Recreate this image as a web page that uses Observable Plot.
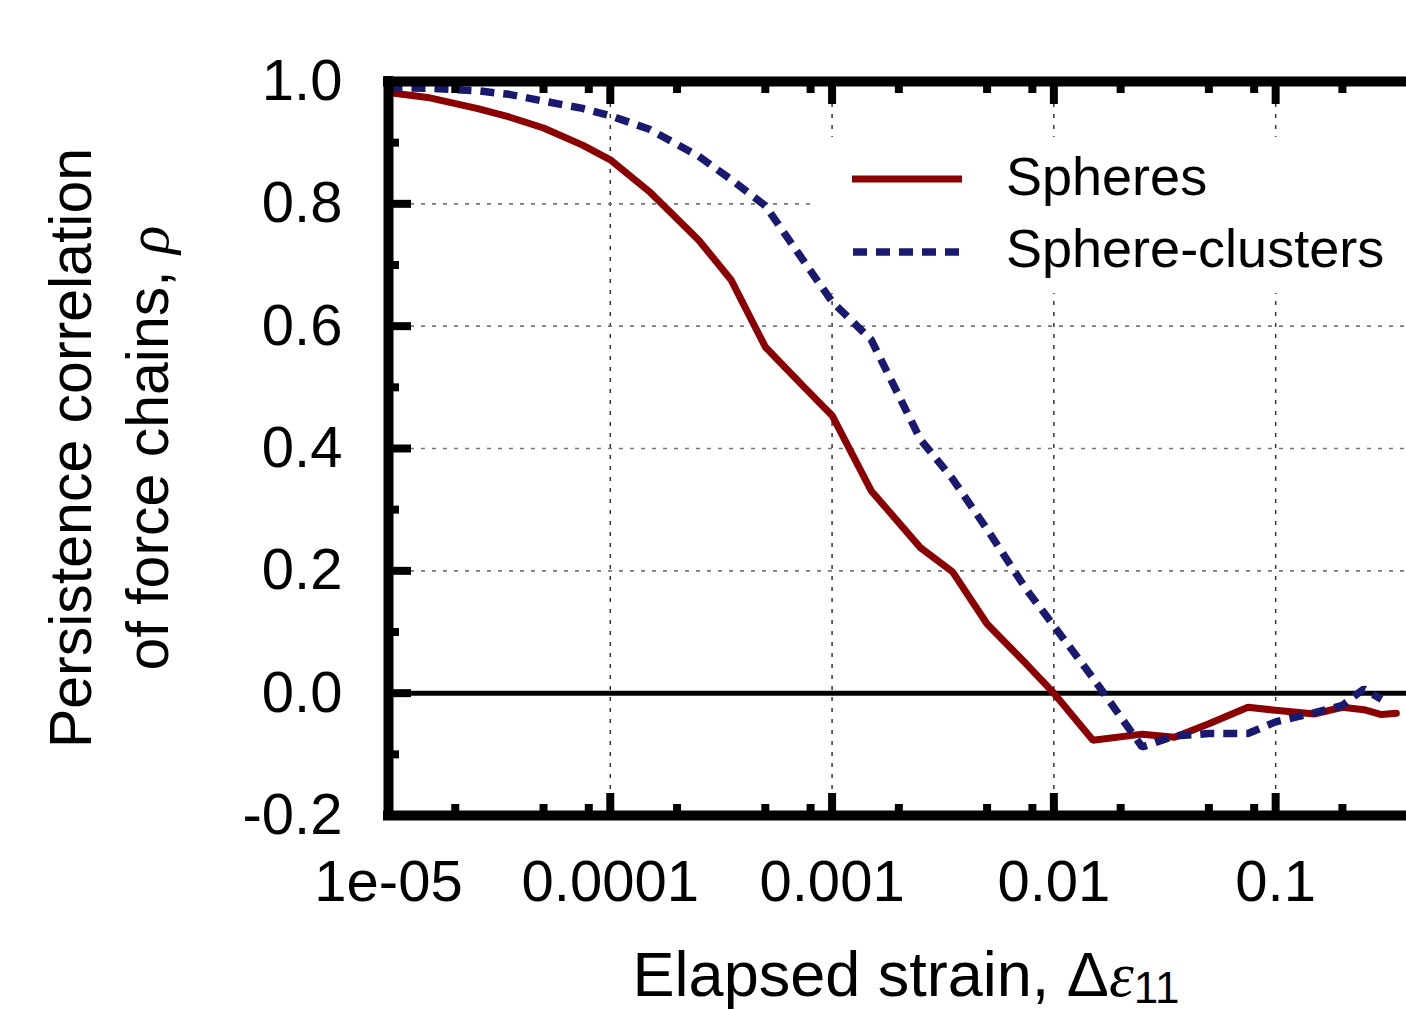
<!DOCTYPE html>
<html>
<head>
<meta charset="utf-8">
<script src="https://cdn.jsdelivr.net/npm/d3@7"></script>
<script src="https://cdn.jsdelivr.net/npm/@observablehq/plot@0.6"></script>
<style>
html, body { margin: 0; padding: 0; background: #fff; overflow: hidden; }
</style>
</head>
<body>
<div id="chart"></div>
<script>
// ---- data ----
const strain = [1e-5, 1.5e-5, 2.5e-5, 3.5e-5, 5e-5, 7.5e-5, 1e-4, 1.5e-4, 2.5e-4, 3.5e-4, 5e-4, 7.5e-4,
  1e-3, 1.5e-3, 2.5e-3, 3.5e-3, 5e-3, 7.5e-3, 1e-2, 1.5e-2, 2.5e-2, 3.5e-2, 5e-2, 7.5e-2,
  0.1, 0.15, 0.2, 0.25, 0.3, 0.35];
const spheres = [0.982, 0.974, 0.956, 0.942, 0.924, 0.896, 0.872, 0.82, 0.741, 0.676, 0.566, 0.50,
  0.454, 0.331, 0.238, 0.198, 0.113, 0.048, 0.0, -0.077, -0.067, -0.072, -0.05, -0.023,
  -0.028, -0.034, -0.023, -0.027, -0.035, -0.033];
const clusters = [0.99, 0.989, 0.985, 0.979, 0.968, 0.956, 0.944, 0.922, 0.878, 0.84, 0.797, 0.705,
  0.64, 0.578, 0.415, 0.35, 0.268, 0.17, 0.11, 0.025, -0.088, -0.07, -0.066, -0.066,
  -0.047, -0.032, -0.02, 0.007, -0.01];

const seriesNames = ["Spheres", "Sphere-clusters"];
const xMajor = [1e-5, 1e-4, 1e-3, 1e-2, 1e-1];
const xMajorLabels = ["1e-05", "0.0001", "0.001", "0.01", "0.1"];
const xMinor = [2e-5, 5e-5, 8e-5, 2e-4, 5e-4, 8e-4, 2e-3, 5e-3, 8e-3, 2e-2, 5e-2, 8e-2, 2e-1];
const xGrid = [1e-4, 1e-3, 1e-2, 1e-1];
const yMajor = [-0.2, 0, 0.2, 0.4, 0.6, 0.8, 1.0];
const yMinor = [-0.1, 0.1, 0.3, 0.5, 0.7, 0.9];
const yGrid = [0.2, 0.4, 0.6, 0.8];
const xDomain = [1e-5, 0.389];
const yDomain = [-0.2, 1.0];

const sphereRows = spheres.map((v, i) => ({strain: strain[i], rho: v}));
const clusterRows = clusters.map((v, i) => ({strain: strain[i], rho: v}));

const RED = "#8b0000", BLUE = "#191970";
const FONT = "'Liberation Sans', Arial, sans-serif";
const SERIF = "'Liberation Serif', 'DejaVu Serif', serif";
const DASH = "14,9";

function legendMark() {
  const g = d3.create("svg:g");
  g.append("rect").attr("x", 810).attr("y", 137).attr("width", 620).attr("height", 156).attr("fill", "#fff");
  g.append("line").attr("x1", 852).attr("x2", 962).attr("y1", 179).attr("y2", 179)
    .attr("stroke", RED).attr("stroke-width", 7);
  g.append("line").attr("x1", 853).attr("x2", 963).attr("y1", 252).attr("y2", 252)
    .attr("stroke", BLUE).attr("stroke-width", 7.5).attr("stroke-dasharray", DASH);
  g.append("text").attr("x", 1006).attr("y", 195).attr("font-size", 54).attr("font-family", FONT)
    .attr("text-anchor", "start").attr("fill", "#000").text(seriesNames[0]);
  g.append("text").attr("x", 1006).attr("y", 267).attr("font-size", 54).attr("font-family", FONT)
    .attr("text-anchor", "start").attr("fill", "#000").text(seriesNames[1]);
  return g.node();
}

function titlesMark() {
  const g = d3.create("svg:g").attr("font-family", FONT).attr("fill", "#000");
  const xt = g.append("text").attr("x", 906).attr("y", 996).attr("text-anchor", "middle").attr("font-size", 63);
  xt.append("tspan").text("Elapsed strain, Δ");
  xt.append("tspan").attr("font-family", SERIF).attr("font-style", "italic").text("ε");
  xt.append("tspan").attr("font-size", 44).attr("dy", 7).text("11");
  const yt = g.append("g").attr("transform", "translate(0,448) rotate(-90)");
  yt.append("text").attr("x", 0).attr("y", 91).attr("text-anchor", "middle").attr("font-size", 59)
    .text("Persistence correlation");
  const l2 = yt.append("text").attr("x", 0).attr("y", 168).attr("text-anchor", "middle").attr("font-size", 59);
  l2.append("tspan").text("of force chains, ");
  l2.append("tspan").attr("font-family", SERIF).attr("font-style", "italic").text("ρ");
  return g.node();
}

const tickOpts = {strokeWidth: 8, tickFormat: () => "", label: null};

const chart = Plot.plot({
  width: 1406,
  height: 1010,
  marginLeft: 388,
  marginRight: 0,
  marginTop: 81,
  marginBottom: 195,
  style: {fontFamily: FONT, fontSize: "57px", color: "#000", background: "#fff", overflow: "visible"},
  x: {type: "log", domain: xDomain, axis: null},
  y: {domain: yDomain, axis: null},
  marks: [
    Plot.gridX(xGrid, {stroke: "#333", strokeOpacity: 1, strokeWidth: 1.5, strokeDasharray: "4,7"}),
    Plot.gridY(yGrid, {stroke: "#777", strokeOpacity: 1, strokeWidth: 1.7, strokeDasharray: "4,7"}),
    legendMark,
    Plot.ruleY([0], {stroke: "#000", strokeWidth: 5}),
    Plot.line(sphereRows, {x: "strain", y: "rho", stroke: RED, strokeWidth: 7, strokeLinejoin: "miter"}),
    Plot.line(clusterRows, {x: "strain", y: "rho", stroke: BLUE, strokeWidth: 7.5, strokeDasharray: DASH, strokeLinecap: "butt", strokeLinejoin: "miter"}),
    Plot.ruleY([yDomain[1], yDomain[0]], {stroke: "#000", strokeWidth: 10, strokeLinecap: "square"}),
    Plot.ruleX([xDomain[0]], {stroke: "#000", strokeWidth: 10, strokeLinecap: "square"}),
    // inward ticks
    Plot.axisX(xMajor, {anchor: "bottom", tickSize: 22, dy: -22, ...tickOpts}),
    Plot.axisX(xMinor, {anchor: "bottom", tickSize: 11, dy: -11, ...tickOpts}),
    Plot.axisX(xMajor, {anchor: "top", tickSize: 22, dy: 22, ...tickOpts}),
    Plot.axisX(xMinor, {anchor: "top", tickSize: 11, dy: 11, ...tickOpts}),
    Plot.axisY(yMajor, {anchor: "left", tickSize: 23, dx: 23, ...tickOpts}),
    Plot.axisY(yMinor, {anchor: "left", tickSize: 11, dx: 11, ...tickOpts}),
    // tick labels
    Plot.axisX(xMajor, {anchor: "bottom", tickSize: 0, tickPadding: 44, fontSize: 58, label: null,
      tickFormat: d => xMajorLabels[xMajor.indexOf(d)]}),
    Plot.axisY(yMajor, {anchor: "left", tickSize: 0, tickPadding: 46, fontSize: 58, label: null,
      tickFormat: d => d.toFixed(1)}),
    titlesMark
  ]
});
document.getElementById("chart").appendChild(chart);
</script>
</body>
</html>
